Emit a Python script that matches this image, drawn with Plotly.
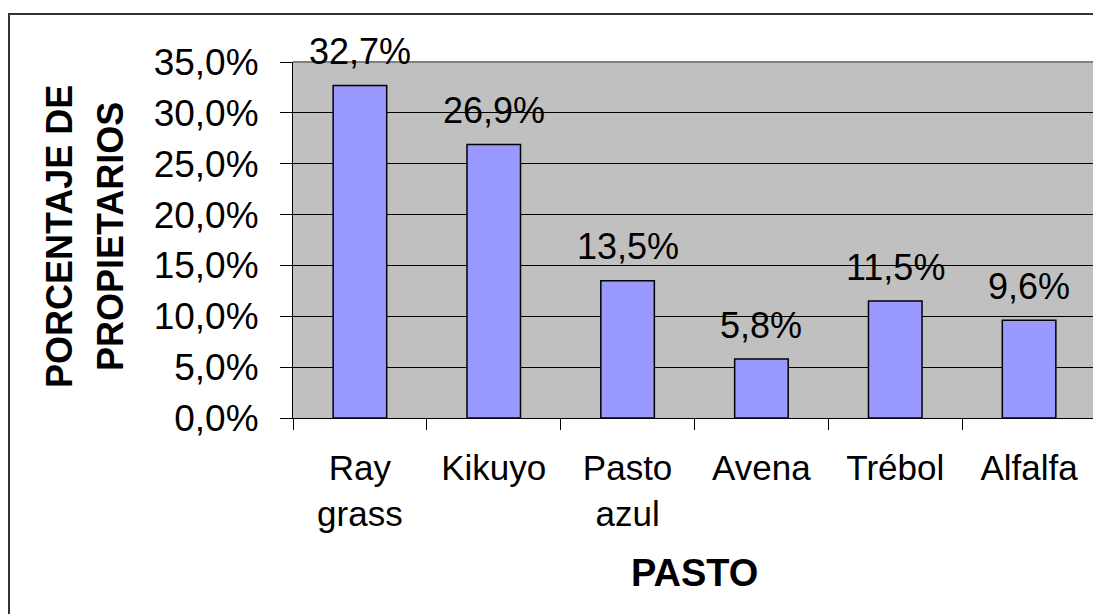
import plotly.graph_objects as go

pastos = ["Ray<br>grass", "Kikuyo", "Pasto<br>azul", "Avena", "Trébol", "Alfalfa"]
porcentajes = [32.7, 26.9, 13.5, 5.8, 11.5, 9.6]
etiquetas = ["32,7%", "26,9%", "13,5%", "5,8%", "11,5%", "9,6%"]
y_ticks = [0, 5, 10, 15, 20, 25, 30, 35]
y_ticktext = ["0,0%", "5,0%", "10,0%", "15,0%", "20,0%", "25,0%", "30,0%", "35,0%"]

fuente = "Liberation Sans, Arial, sans-serif"

fig = go.Figure()

fig.add_trace(go.Bar(
    x=pastos,
    y=porcentajes,
    marker=dict(color="#9999FF", line=dict(color="black", width=1.5)),
))

# etiquetas de datos encima de cada barra
anotaciones = []
for p, v, t in zip(pastos, porcentajes, etiquetas):
    anotaciones.append(dict(x=p, y=v, text=t, showarrow=False, yanchor="middle",
                            yshift=34, font=dict(size=36, family=fuente)))

anotaciones += [
    dict(text="<b>PORCENTAJE DE</b>", textangle=-90, xref="paper", yref="paper",
         x=(59 - 293) / 803, y=(418 - 237) / 356, showarrow=False,
         xanchor="center", yanchor="middle", font=dict(size=36, family=fuente)),
    dict(text="<b>PROPIETARIOS</b>", textangle=-90, xref="paper", yref="paper",
         x=(110 - 293) / 803, y=(418 - 237) / 356, showarrow=False,
         xanchor="center", yanchor="middle", font=dict(size=36, family=fuente)),
    dict(text="<b>PASTO</b>", xref="paper", yref="paper", x=0.5,
         y=(418 - 573) / 356, showarrow=False, xanchor="center", yanchor="middle",
         font=dict(size=38, family=fuente)),
]

fig.update_layout(
    width=1093, height=606,
    margin=dict(l=285, r=5, t=54, b=196),
    plot_bgcolor="#C0C0C0",
    paper_bgcolor="white",
    showlegend=False,
    bargap=0.6,
    font=dict(family=fuente, size=36, color="black"),
    xaxis=dict(
        tickson="boundaries", ticks="outside", ticklen=11, tickcolor="black",
        tickwidth=1, showline=True, linecolor="black", linewidth=1,
        tickfont=dict(size=35), ticklabelstandoff=19, automargin=False,
    ),
    yaxis=dict(
        range=[0, 35], tickvals=y_ticks, ticktext=y_ticktext,
        ticks="outside", ticklen=12, tickcolor="black",
        showgrid=True, gridcolor="black", gridwidth=1,
        showline=True, linecolor="black", linewidth=1,
        tickfont=dict(size=37), zeroline=False, ticklabelstandoff=14,
        automargin=False,
    ),
    shapes=[
        # borde gris del area de trazado (derecha y arriba)
        dict(type="line", xref="paper", yref="paper", x0=1, x1=1, y0=0, y1=1,
             line=dict(color="#808080", width=3)),
        dict(type="line", xref="paper", yref="paper", x0=0, x1=1, y0=1, y1=1,
             line=dict(color="#808080", width=2)),
        # borde exterior del grafico
        dict(type="rect", xref="paper", yref="paper", x0=(9 - 293) / 803, x1=1.2,
             y0=-0.7, y1=(418 - 14) / 356, line=dict(color="#333333", width=2),
             layer="below"),
    ],
    annotations=anotaciones,
)

fig.write_html("out.html")
